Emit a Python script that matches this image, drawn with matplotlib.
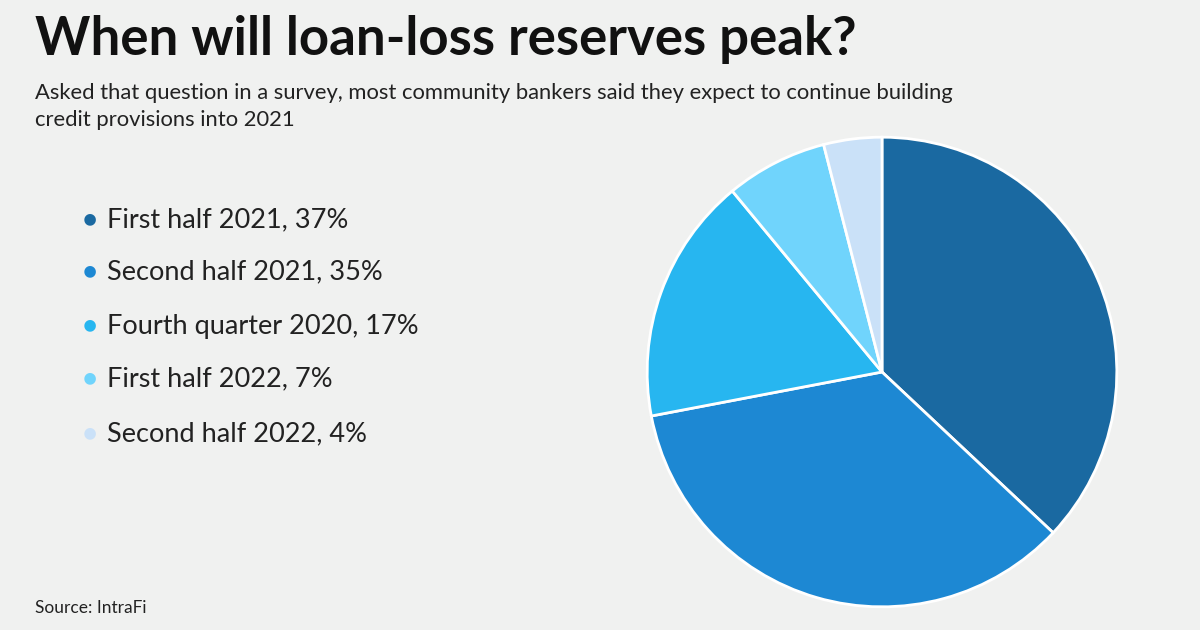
import matplotlib
matplotlib.use("Agg")
import matplotlib.pyplot as plt

categories = ["First half 2021", "Second half 2021", "Fourth quarter 2020", "First half 2022", "Second half 2022"]
values = [37, 35, 17, 7, 4]
colors = ["#1a69a1", "#1d88d3", "#27b6f0", "#70d4fc", "#cae1f8"]
bg = "#f0f1f0"

plt.rcParams["font.family"] = "Lato"
fig = plt.figure(figsize=(12, 6.3), dpi=100, facecolor=bg)

fig.text(35/1200, 1-40/630, "When will loan-loss reserves peak?", fontsize=38, fontweight="bold", va="center", color="#111111")
fig.text(35/1200, 1-93/630, "Asked that question in a survey, most community bankers said they expect to continue building", fontsize=15.8, va="center", color="#222222")
fig.text(35/1200, 1-120/630, "credit provisions into 2021", fontsize=15.8, va="center", color="#222222")
fig.text(35/1200, 1-608/630, "Source: IntraFi", fontsize=12.5, va="center", color="#222222")

ys = [220, 272, 326, 379, 434]
for c, v, col, y in zip(categories, values, colors, ys):
    fig.text(90/1200, 1-y/630, "\u25CF", fontsize=17, color=col, ha="center", va="center")
    fig.text(107/1200, 1-y/630, f"{c}, {v}%", fontsize=19.5, va="center", color="#222222")

ax = fig.add_axes([(882-236)/1200, (630-372-236)/630, 472/1200, 472/630])
ax.set_facecolor(bg)
ax.pie(values, colors=colors, startangle=90, counterclock=False, radius=1,
       wedgeprops=dict(edgecolor="white", linewidth=2))
ax.set_xlim(-1.005, 1.005)
ax.set_ylim(-1.005, 1.005)
ax.set_aspect("equal")
ax.axis("off")

fig.savefig("out.png", dpi=100, facecolor=bg)
